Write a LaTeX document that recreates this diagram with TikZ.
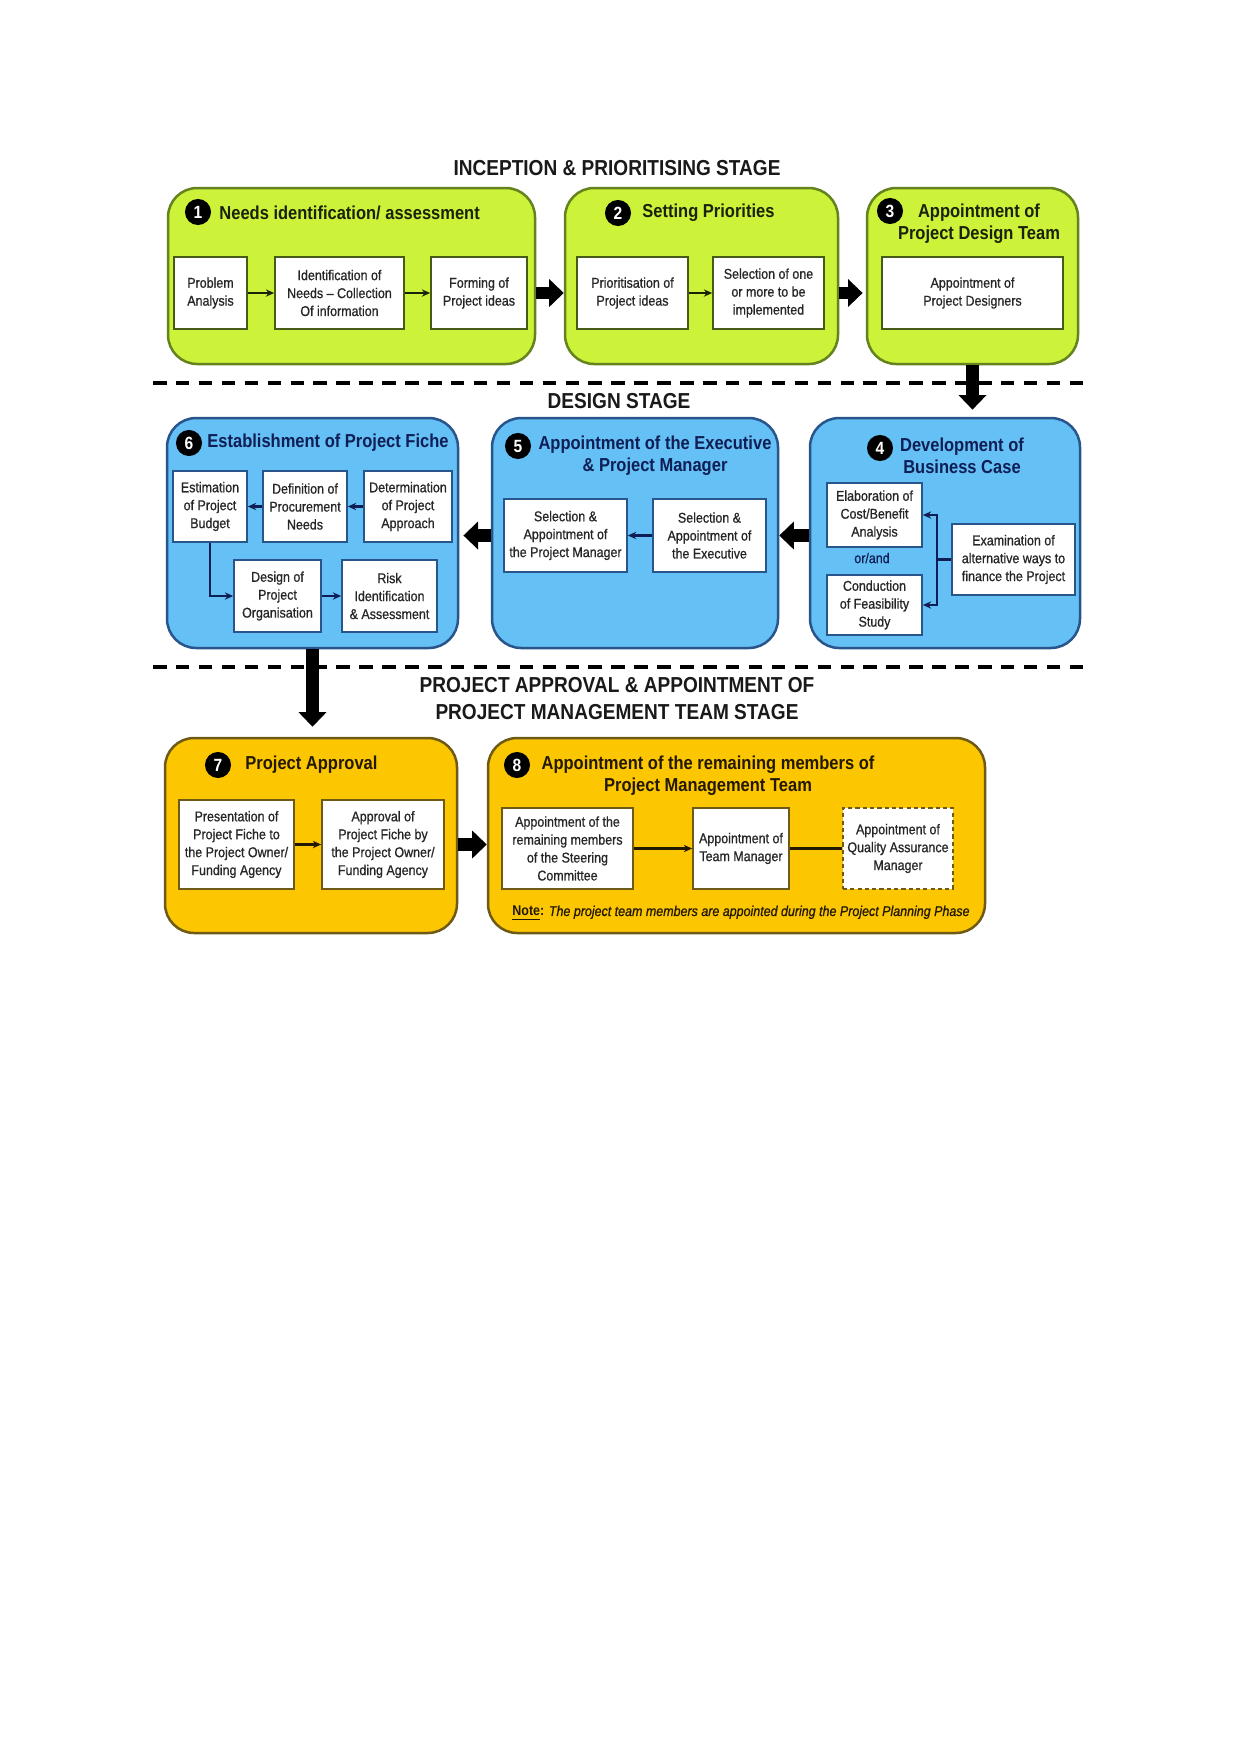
\documentclass[tikz,border=0pt]{standalone}
\usepackage{fontspec}
\setmainfont{Liberation Sans}[FakeStretch=0.88]
\newfontface\taskface{Liberation Sans}[FakeStretch=0.88, FakeBold=0.8, Ligatures=TeX]
\newfontface\noteface{Liberation Sans Italic}[FakeStretch=0.88, FakeBold=0.8, Ligatures=TeX]
\usepackage{tikz}
\usetikzlibrary{arrows.meta,positioning,calc}
\definecolor{stagegreen}{RGB}{204,242,58}
\definecolor{stageblue}{RGB}{100,192,245}
\definecolor{stagegold}{RGB}{252,198,0}
\definecolor{greenline}{RGB}{100,130,30}
\definecolor{blueline}{RGB}{40,85,140}
\definecolor{goldline}{RGB}{110,90,20}
\definecolor{greentext}{RGB}{25,35,10}
\definecolor{bluetext}{RGB}{15,30,85}
\definecolor{goldtext}{RGB}{35,25,0}
\newcommand{\stagefont}{\fontsize{10.4}{12.8}\selectfont\bfseries}
\newcommand{\headfont}{\fontsize{9}{10.6}\selectfont\bfseries}
\newcommand{\taskfont}{\fontsize{6.8}{8.6}\selectfont\taskface}
\tikzset{
  wh/.style 2 args={minimum width=#1*0.48pt, minimum height=#2*0.48pt},
  stagebox/.style={draw, line width=1.2pt, rounded corners=14pt},
  greenstage/.style={stagebox, draw=greenline, fill=stagegreen},
  bluestage/.style={stagebox, draw=blueline, fill=stageblue},
  goldstage/.style={stagebox, draw=goldline, fill=stagegold},
  taskbox/.style={draw, fill=white, line width=0.8pt, align=center,
                  inner sep=1pt, font=\taskfont, text=black!85},
  numdot/.style={circle, fill=black, text=white, inner sep=0pt,
                 minimum size=12.5pt, font=\fontsize{8.5}{8.5}\selectfont\bfseries},
  heading/.style={inner sep=0pt, align=center, font=\headfont},
  stagetitle/.style={inner sep=0pt, align=center, font=\stagefont, text=black!90},
  link/.style={line width=1pt, -{Stealth[length=4pt,width=3.5pt]}},
  bigarrow/.style={line width=5.8pt, -{Triangle[width=13pt,length=7pt]}},
  divider/.style={line width=1.5pt, dash pattern=on 6.5pt off 4.5pt}
}

\begin{document}
\begin{tikzpicture}[x=0.48pt, y=-0.48pt]

  \fill[white] (0,0) rectangle (1241,1754);
  \useasboundingbox (0,0) rectangle (1241,1754);

  % Inception & prioritising stage
  \node[stagetitle] (title1) at (617,168) {INCEPTION \& PRIORITISING STAGE};
  \node[greenstage, wh={367}{176}] (s1) at (351.5,276) {};
  \node[greenstage, wh={273}{176}] (s2) at (701.5,276) {};
  \node[greenstage, wh={211}{176}] (s3) at (972.5,276) {};
  \node[numdot] (n1) at (198,212) {1};
  \node[heading, anchor=west, text=greentext] (h1) at (219,213) {Needs identification/ assessment};
  \node[numdot] (n2) at (618,213) {2};
  \node[heading, anchor=west, text=greentext] (h2) at (642,213) {Setting Priorities};
  \node[numdot] (n3) at (890,211) {3};
  \node[heading, text=greentext] (h3) at (979,224) {Appointment of\\Project Design Team};

  \begin{scope}[every node/.append style={draw=greenline!70!black}]
    \node[taskbox, wh={73}{72}] (pa) at (210.5,293) {Problem\\Analysis};
    \node[taskbox, wh={129}{72}] (idn) at (339.5,293) {Identification of\\Needs -- Collection\\Of information};
    \node[taskbox, wh={96}{72}] (fpi) at (479,293) {Forming of\\Project ideas};
    \node[taskbox, wh={111}{72}] (pri) at (632.5,293) {Prioritisation of\\Project ideas};
    \node[taskbox, wh={111}{72}] (sel) at (768.5,293) {Selection of one\\or more to be\\implemented};
    \node[taskbox, wh={181}{72}] (apd) at (972.5,293) {Appointment of\\Project Designers};
  \end{scope}
  \draw[link, greentext] (pa) -- (idn);
  \draw[link, greentext] (idn) -- (fpi);
  \draw[link, greentext] (pri) -- (sel);

  \draw[divider] (153,383) -- (1086,383);

  % Design stage
  \node[stagetitle] (title2) at (619,401) {DESIGN STAGE};
  \node[bluestage, wh={291}{230}] (s6) at (312.5,533) {};
  \node[bluestage, wh={286}{230}] (s5) at (635,533) {};
  \node[bluestage, wh={270}{230}] (s4) at (945,533) {};
  \node[numdot] (n6) at (189,443) {6};
  \node[heading, anchor=west, text=bluetext] (h6) at (207,443) {Establishment of Project Fiche};
  \node[numdot] (n5) at (518,446) {5};
  \node[heading, text=bluetext] (h5) at (655,456) {Appointment of the Executive\\\& Project Manager};
  \node[numdot] (n4) at (880,448) {4};
  \node[heading, text=bluetext] (h4) at (962,456) {Development of\\Business Case};

  \begin{scope}[every node/.append style={draw=blueline}]
    \node[taskbox, wh={74}{71}] (epb) at (210,506.5) {Estimation\\of Project\\Budget};
    \node[taskbox, wh={84}{71}] (dpn) at (305,506.5) {Definition of\\Procurement\\Needs};
    \node[taskbox, wh={88}{71}] (dpa) at (408,506.5) {Determination\\of Project\\Approach};
    \node[taskbox, wh={87}{72}] (dpo) at (277.5,596) {Design of\\Project\\Organisation};
    \node[taskbox, wh={95}{72}] (ria) at (389.5,596) {Risk\\Identification\\\& Assessment};
    \node[taskbox, wh={123}{73}] (spm) at (565.5,535.5) {Selection \&\\Appointment of\\the Project Manager};
    \node[taskbox, wh={113}{73}] (sex) at (709.5,535.5) {Selection \&\\Appointment of\\the Executive};
    \node[taskbox, wh={95}{64}] (cba) at (874.5,515) {Elaboration of\\Cost/Benefit\\Analysis};
    \node[taskbox, wh={95}{60}] (cfs) at (874.5,605) {Conduction\\of Feasibility\\Study};
    \node[taskbox, wh={123}{71}] (exa) at (1013.5,559.5) {Examination of\\alternative ways to\\finance the Project};
  \end{scope}
  \node[font=\taskfont, text=bluetext, inner sep=0pt] (orand) at (872,558) {or/and};
  \draw[link, bluetext] (dpa) -- (dpn);
  \draw[link, bluetext] (dpn) -- (epb);
  \draw[link, bluetext] (epb.south) |- (dpo.west);
  \draw[link, bluetext] (dpo) -- (ria);
  \draw[link, bluetext] (sex) -- (spm);
  \coordinate (split) at (937,559.5);
  \draw[line width=1pt, bluetext] (exa.west) -- (split);
  \draw[link, bluetext] (split) |- (cba.east);
  \draw[link, bluetext] (split) |- (cfs.east);

  \draw[divider] (153,667) -- (1086,667);

  % Approval stage
  \node[stagetitle] (title3) at (617,698.5) {PROJECT APPROVAL \& APPOINTMENT OF\\PROJECT MANAGEMENT TEAM STAGE};
  \node[goldstage, wh={292}{195}] (s7) at (311,835.5) {};
  \node[goldstage, wh={497}{195}] (s8) at (736.5,835.5) {};
  \node[numdot] (n7) at (218,765) {7};
  \node[heading, anchor=west, text=goldtext] (h7) at (245,765) {Project Approval};
  \node[numdot] (n8) at (517,765) {8};
  \node[heading, text=goldtext] (h8) at (708,776) {Appointment of the remaining members of\\Project Management Team};

  \begin{scope}[every node/.append style={draw=goldline}]
    \node[taskbox, wh={115}{89}] (pres) at (236.5,844.5) {Presentation of\\Project Fiche to\\the Project Owner/\\Funding Agency};
    \node[taskbox, wh={122}{89}] (appr) at (383,844.5) {Approval of\\Project Fiche by\\the Project Owner/\\Funding Agency};
    \node[taskbox, wh={131}{81}] (stc) at (567.5,848.5) {Appointment of the\\remaining members\\of the Steering\\Committee};
    \node[taskbox, wh={96}{81}] (tmg) at (741,848.5) {Appointment of\\Team Manager};
    \node[taskbox, wh={110}{81}, dash pattern=on 2pt off 1.5pt] (qam) at (898,848.5) {Appointment of\\Quality Assurance\\Manager};
  \end{scope}
  \draw[link, goldtext] (pres) -- (appr);
  \draw[link, goldtext] (stc) -- (tmg);
  \draw[line width=1pt, goldtext] (tmg) -- (qam);
  \node[font=\fontsize{6.8}{8.6}\selectfont, inner sep=0pt, text=goldtext] (note) at (741,913)
    {\textbf{\underline{Note}:} \noteface The project team members are appointed during the Project Planning Phase};

  % Stage to stage arrows
  \draw[bigarrow] (s1.east |- fpi) -- (s2.west |- fpi);
  \draw[bigarrow, shorten >=1.5pt] (s2.east |- sel) -- (s3.west |- sel);
  \draw[bigarrow, shorten >=3.4pt] (s3.south) -- (s3.south |- s4.north);
  \draw[bigarrow] (s4.west |- sex) -- (s5.east |- sex);
  \draw[bigarrow, shorten >=2pt] (s5.west |- spm) -- (s6.east |- spm);
  \draw[bigarrow, shorten >=4.8pt] (s6.south) -- (s6.south |- s7.north);
  \draw[bigarrow] (s7.east |- appr) -- (s8.west |- appr);
\end{tikzpicture}
\end{document}
